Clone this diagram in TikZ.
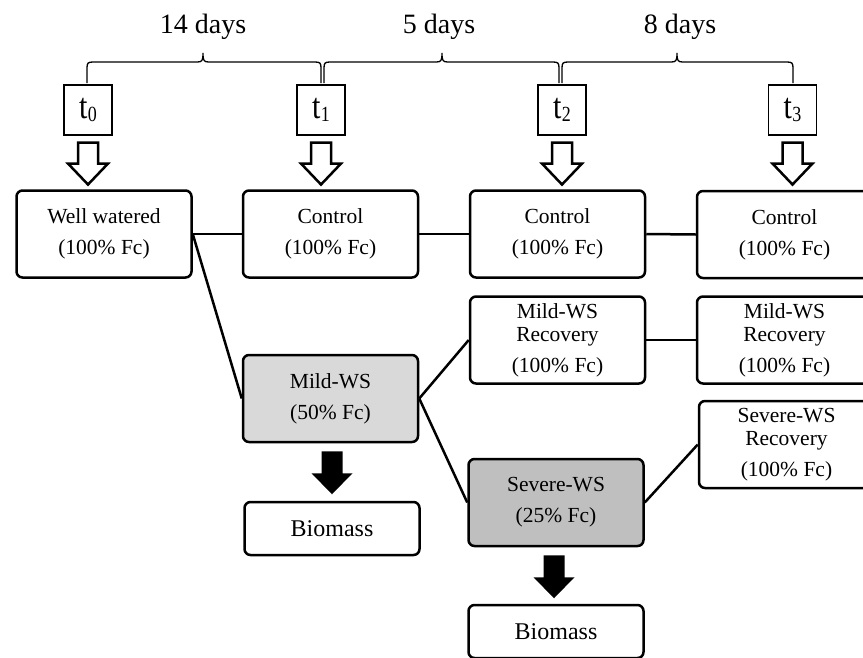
\documentclass[tikz,border=0pt]{standalone}
\usepackage{fontspec}
\setmainfont{Liberation Serif}
\usetikzlibrary{calc}
\definecolor{mildgray}{HTML}{D9D9D9}
\definecolor{sevgray}{HTML}{BFBFBF}
\tikzset{
  stagebox/.style={draw, line width=2.5pt, rounded corners=6pt, minimum width=175pt,
    minimum height=87pt, align=center, inner sep=0pt, fill=white,
    font=\fontsize{21.5}{23}\selectfont},
  biobox/.style={stagebox, minimum height=53pt, font=\fontsize{24}{26}\selectfont},
  tbox/.style={draw, line width=1.1pt, minimum width=48pt, minimum height=50pt,
    inner sep=0pt, font=\fontsize{30}{30}\selectfont},
  daylabel/.style={font=\fontsize{28}{30}\selectfont, inner sep=0pt},
  link/.style={line width=2.5pt},
  brc/.style={line width=1.3pt},
  hollow/.style={draw, line width=2.5pt, fill=white, line join=miter},
  solidarrow/.style={fill=black}
}
\newcommand\tlabel[1]{\scalebox{1}[1.2]{t\kern0.5pt\raisebox{-2pt}{\fontsize{18}{18}\selectfont #1}}}
\newcommand\mybrace[3]{%
  \draw[brc] (#1,83) -- (#1,68) .. controls (#1,63) and ($(#1,62)+(1,0)$) .. ($(#1,62)+(6,0)$)
    -- ($(#3,62)+(-6,0)$) .. controls ($(#3,62)+(-1,0)$) and ($(#3,61)$) .. (#3,53)
    .. controls (#3,61) and ($(#3,62)+(1,0)$) .. ($(#3,62)+(6,0)$)
    -- ($(#2,62)+(-6,0)$) .. controls ($(#2,62)+(-1,0)$) and (#2,63) .. (#2,68) -- (#2,83);}
\newcommand\hollowarrow[1]{%
  \draw[hollow] ([shift={(-10,7)}]#1.south) -- ([shift={(10,7)}]#1.south)
    -- ([shift={(10,28)}]#1.south) -- ([shift={(20,28)}]#1.south)
    -- ([shift={(0,49)}]#1.south) -- ([shift={(-20,28)}]#1.south)
    -- ([shift={(-10,28)}]#1.south) -- cycle;}
\newcommand\solidarrow[2]{%
  \fill[solidarrow] ([shift={(#2-10.5,8)}]#1.south) -- ([shift={(#2+10.5,8)}]#1.south)
    -- ([shift={(#2+10.5,30)}]#1.south) -- ([shift={(#2+20.5,30)}]#1.south)
    -- ([shift={(#2,51)}]#1.south) -- ([shift={(#2-20.5,30)}]#1.south)
    -- ([shift={(#2-10.5,30)}]#1.south) -- cycle;}
\begin{document}
\begin{tikzpicture}[x=1pt, y=-1pt]
\useasboundingbox (0,0) rectangle (863,657);
\fill[white] (0,0) rectangle (863,657);
\clip (0,0) rectangle (863,657);

% day labels and braces
\node[daylabel] (d14) at (203,27) {14 days};
\node[daylabel] (d5) at (439,27) {5 days};
\node[daylabel] (d8) at (680,27) {8 days};
\mybrace{87}{321}{203}
\mybrace{324}{559}{442}
\mybrace{562}{793}{677}

% time boxes
\node[tbox] (t0) at (88,110) {\tlabel{0}};
\node[tbox] (t1) at (321,110) {\tlabel{1}};
\node[tbox] (t2) at (562,110) {\tlabel{2}};
\node[tbox] (t3) at (792.5,110) {\tlabel{3}};

\hollowarrow{t0}
\hollowarrow{t1}
\hollowarrow{t2}
\hollowarrow{t3}

% stage boxes
\node[stagebox] (ww) at (104,234) {Well watered\\[8pt](100\% Fc)};
\node[stagebox] (c1) at (330.5,234) {Control\\[8pt](100\% Fc)};
\node[stagebox] (c2) at (557.5,234) {Control\\[8pt](100\% Fc)};
\node[stagebox] (c3) at (784.5,234.5) {Control\\[8pt](100\% Fc)};
\node[stagebox] (mr1) at (557.5,340) {Mild-WS\\Recovery\\[8pt](100\% Fc)};
\node[stagebox] (mr2) at (784.5,340) {Mild-WS\\Recovery\\[8pt](100\% Fc)};
\node[stagebox] (sr) at (786.5,444.5) {Severe-WS\\Recovery\\[8pt](100\% Fc)};
\node[stagebox, fill=mildgray] (mild) at (330.5,398.5) {Mild-WS\\[8pt](50\% Fc)};
\node[stagebox, fill=sevgray] (sev) at (556,502.5) {Severe-WS\\[8pt](25\% Fc)};
\node[biobox] (bio1) at (332,528.5) {Biomass};
\node[biobox] (bio2) at (556,631.5) {Biomass};

% connectors
\draw[link] (ww.east) -- (c1.west);
\draw[link] (c1.east) -- (c2.west);
\draw[link] (c2.east) -- (c3.west);
\draw[link] (ww.east) -- (mild.west);
\draw[link] (mild.east) -- (mr1.west);
\draw[link] (mild.east) -- (sev.west);
\draw[link] (mr1.east) -- (mr2.west);
\draw[link] (sev.east) -- (sr.west);

\solidarrow{mild}{1.5}
\solidarrow{sev}{-2}
\end{tikzpicture}
\end{document}
